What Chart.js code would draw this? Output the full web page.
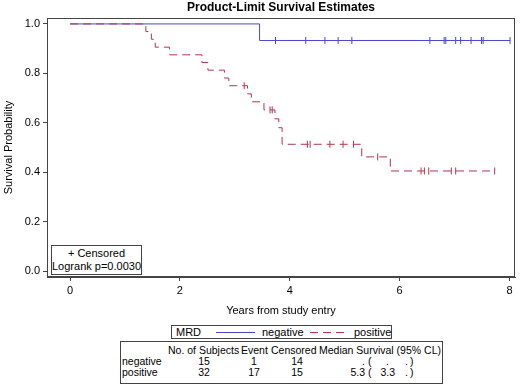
<!DOCTYPE html>
<html>
<head>
<meta charset="utf-8">
<script src="https://cdn.jsdelivr.net/npm/chart.js@4"></script>
<style>
  body { margin: 0; background: #fff; }
  #page { position: relative; width: 520px; height: 385px; font-family: "Liberation Sans", Arial, sans-serif; font-size: 11px; color: #000; overflow: hidden; }
  #wrap { position: absolute; left: 0; top: 0; width: 520px; height: 320px; }
  .abs { position: absolute; white-space: pre; line-height: 12px; }
  #table .abs { font-size: 10.5px; }
  .box { position: absolute; border: 1px solid #444; background: #fff; box-sizing: border-box; }
</style>
</head>
<body>
<div id="page">
  <div id="wrap"><canvas id="km"></canvas></div>
  <div class="box" style="left:51px; top:245px; width:91px; height:30px; text-align:center; line-height:13px; padding-top:1px;">+ Censored<br>Logrank p=0.0030</div>
  <div id="legend"></div>
  <div id="table"></div>
</div>
<script>
// Kaplan-Meier estimates (years, survival probability)
const negEventTimes = [3.45];
const negSurvival = [0.933];
const negCensorTimes = [3.74, 4.29, 4.64, 4.88, 5.13, 6.55, 6.81, 6.84, 7.02, 7.11, 7.30, 7.49, 7.52, 8.01];

const posEventTimes = [1.38, 1.48, 1.55, 1.81, 2.40, 2.51, 2.81, 2.89, 3.23, 3.30, 3.53, 3.73, 3.80, 3.86, 5.31, 5.83];
const posSurvival = [0.969, 0.938, 0.906, 0.875, 0.844, 0.813, 0.781, 0.750, 0.717, 0.685, 0.652, 0.616, 0.580, 0.513, 0.462, 0.405];
const posCensorTimes = [3.17, 3.64, 3.68, 4.32, 4.37, 4.73, 4.97, 5.16, 5.60, 6.39, 6.45, 6.53, 6.94, 7.02, 7.73];

const xTicks = [0, 2, 4, 6, 8];
const yTicks = [0, 0.2, 0.4, 0.6, 0.8, 1.0];

// summary table
const tableHeader = ["No. of Subjects", "Event", "Censored", "Median Survival (95% CL)"];
const groups = ["negative", "positive"];
const nSubjects = [15, 32];
const nEvents = [1, 17];
const nCensored = [14, 15];
const medianSurv = [".", "5.3"];
const medianLow = [".", "3.3"];
const medianHigh = [".", "."];

const blue = "#4848cf";
const red = "#b3354c";
const frame = "#444";

// survival at time t (step function)
function survAt(times, surv, t) {
  let s = 1;
  times.forEach((et, i) => { if (et <= t) s = surv[i]; });
  return s;
}

// build step curve points: start, events and censors in time order
function curve(times, surv, censors) {
  const pts = [{ x: 0, y: 1 }];
  const all = times.map((t, i) => ({ x: t, y: surv[i] }))
    .concat(censors.map((t) => ({ x: t, y: survAt(times, surv, t) })));
  all.sort((a, b) => a.x - b.x);
  return pts.concat(all);
}

function censorPts(times, surv, censors) {
  return censors.map((t) => ({ x: t, y: survAt(times, surv, t) }));
}

const font = { family: '"Liberation Sans", Arial, sans-serif', size: 11 };

// outer frame round the plot
const framePlugin = {
  id: "frame",
  afterDraw(chart) {
    const { ctx, chartArea: a } = chart;
    ctx.save();
    ctx.strokeStyle = frame;
    ctx.lineWidth = 1;
    ctx.strokeRect(Math.round(a.left) + 0.5, Math.round(a.top) + 0.5, Math.round(a.right - a.left) - 1, Math.round(a.bottom - a.top) - 1);
    ctx.restore();
  }
};

const chart = new Chart(document.getElementById("km"), {
  type: "line",
  plugins: [framePlugin],
  data: {
    datasets: [
      {
        label: "positive",
        data: curve(posEventTimes, posSurvival, posCensorTimes),
        borderColor: red,
        borderWidth: 1,
        borderDash: [8, 5],
        stepped: "before",
        pointRadius: 0,
        order: 1
      },
      {
        label: "negative",
        data: curve(negEventTimes, negSurvival, negCensorTimes),
        borderColor: blue,
        borderWidth: 1,
        stepped: "before",
        pointRadius: 0,
        order: 2
      },
      {
        label: "positive censored",
        type: "scatter",
        data: censorPts(posEventTimes, posSurvival, posCensorTimes),
        pointStyle: "line",
        rotation: 90,
        pointRadius: 3.5,
        borderColor: red,
        borderWidth: 1,
        order: 0
      },
      {
        label: "negative censored",
        type: "scatter",
        data: censorPts(negEventTimes, negSurvival, negCensorTimes),
        pointStyle: "line",
        rotation: 90,
        pointRadius: 3.5,
        borderColor: blue,
        borderWidth: 1,
        order: 0
      }
    ]
  },
  options: {
    responsive: true,
    maintainAspectRatio: false,
    animation: false,
    layout: { padding: { left: 0, right: 2, top: 0, bottom: 0 } },
    plugins: {
      legend: { display: false },
      tooltip: { enabled: false },
      title: {
        display: true,
        text: "Product-Limit Survival Estimates",
        fullSize: false,
        color: "#000",
        font: { family: font.family, size: 12, weight: "bold" },
        padding: { top: 0, bottom: 3.6 }
      }
    },
    scales: {
      x: {
        type: "linear",
        min: -0.42,
        max: 8.1,
        afterFit: (s) => { s.height = 43; },
        afterBuildTicks: (s) => { s.ticks = xTicks.map((v) => ({ value: v })); },
        ticks: { color: "#000", font, padding: 3, maxRotation: 0 },
        grid: { drawOnChartArea: false, drawTicks: true, tickLength: 4, color: frame },
        border: { display: true, color: frame },
        title: { display: true, text: "Years from study entry", color: "#000", font, padding: { top: 0, bottom: 2.4 } }
      },
      y: {
        min: -0.024,
        max: 1.024,
        afterFit: (s) => { s.width = 47; },
        afterBuildTicks: (s) => { s.ticks = yTicks.map((v) => ({ value: v })); },
        ticks: { color: "#000", font, padding: 3, callback: (v) => v.toFixed(1) },
        grid: { drawOnChartArea: false, drawTicks: true, tickLength: 4, color: frame },
        border: { display: true, color: frame },
        title: { display: true, text: "Survival Probability", color: "#000", font, padding: { top: 2, bottom: 0 } }
      }
    }
  }
});

// legend below the plot
const legend = document.getElementById("legend");
legend.innerHTML =
  '<div class="box" style="left:171px; top:325px; width:221px; height:14px;"></div>' +
  '<div class="abs" style="left:176px; top:326px;">MRD</div>' +
  '<svg class="abs" style="left:216px; top:326px;" width="40" height="12"><line x1="0" y1="6.5" x2="39" y2="6.5" stroke="' + blue + '" stroke-width="1"/></svg>' +
  '<div class="abs" style="left:262px; top:326px;">negative</div>' +
  '<svg class="abs" style="left:310px; top:326px;" width="36" height="12"><line x1="0" y1="6.5" x2="34" y2="6.5" stroke="' + red + '" stroke-width="1" stroke-dasharray="8,5"/></svg>' +
  '<div class="abs" style="left:354px; top:326px;">positive</div>';

// summary table
const table = document.getElementById("table");
let html = '<div class="box" style="left:120px; top:341px; width:323px; height:43px;"></div>';
const cell = (text, x, y, align) => {
  const style = align === "c" ? `left:${x - 40}px; width:80px; text-align:center;`
    : align === "r" ? `left:${x - 80}px; width:80px; text-align:right;`
    : `left:${x}px;`;
  return `<div class="abs" style="${style} top:${y}px;">${text}</div>`;
};
const headerX = [168, 241, 271, 319];
tableHeader.forEach((h, i) => { html += cell(h, headerX[i], 344, "l"); });
groups.forEach((g, i) => {
  const y = 355 + i * 10.5;
  html += cell(g, 122, y, "l");
  html += cell(nSubjects[i], 204, y, "c");
  html += cell(nEvents[i], 254, y, "c");
  html += cell(nCensored[i], 297, y, "c");
  html += cell(medianSurv[i], 365, y, "r");
  html += cell("(", 368, y, "l");
  html += cell(medianLow[i], medianLow[i] === "." ? 389 : 395, y, "r");
  html += cell(medianHigh[i], 408, y, "r");
  html += cell(")", 410, y, "l");
});
table.innerHTML = html;
</script>
</body>
</html>
